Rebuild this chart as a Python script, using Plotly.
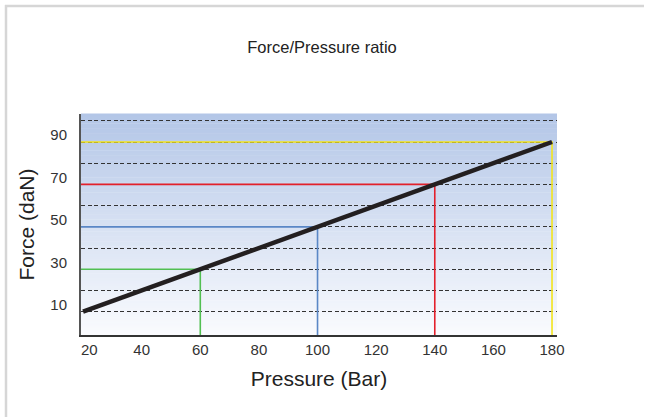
import plotly.graph_objects as go

# ---- data -------------------------------------------------------------
PRESSURE = [20, 60, 100, 140, 180]          # Bar
FORCE = [10, 30, 50, 70, 90]                # daN
MARKED_PRESSURE = [60, 100, 140, 180]
MARKED_FORCE = [30, 50, 70, 90]
MARK_COLORS = ["#52bf52", "#5a87c6", "#e3202b", "#f2e41e"]

X_TICKS = [20, 40, 60, 80, 100, 120, 140, 160, 180]
X_TICK_TEXT = ["\u00a0\u00a0\u00a020", "40", "60", "80", "100", "120", "140", "160", "180"]
Y_TICKS = [10, 30, 50, 70, 90]
Y_MINOR = [20, 40, 60, 80, 100]

X_RANGE = [19.3, 181.7]
Y_RANGE = [-1.0, 103.2]

# ---- layout geometry ---------------------------------------------------
W, H = 645, 418
M_L, M_R, M_T, M_B = 81, 88, 114, 83
PW, PH = W - M_L - M_R, H - M_T - M_B

FONT = "Liberation Sans, Arial, sans-serif"
TOP_COLOR = (179, 198, 231)
BOTTOM_COLOR = (250, 251, 254)

fig = go.Figure()

# reference guides: horizontal from the y axis to the point, then down to the x axis
for p, f, c in zip(MARKED_PRESSURE, MARKED_FORCE, MARK_COLORS):
    fig.add_trace(go.Scatter(
        x=[X_RANGE[0], p, p], y=[f, f, Y_RANGE[0]],
        mode="lines", line=dict(color=c, width=1.6),
        hoverinfo="skip", showlegend=False,
    ))

# force / pressure line
fig.add_trace(go.Scatter(
    x=PRESSURE, y=FORCE, mode="lines",
    line=dict(color="#231f20", width=4.5),
    showlegend=False,
))

# vertical gradient background, built from thin bands below the grid
shapes = []
N = 90
for i in range(N):
    t0 = i / N
    t1 = (i + 1) / N
    tm = (i + 0.5) / N
    rgb = tuple(round(BOTTOM_COLOR[k] + (TOP_COLOR[k] - BOTTOM_COLOR[k]) * tm) for k in range(3))
    shapes.append(dict(
        type="rect", xref="x domain", yref="y domain",
        x0=0, x1=1, y0=t0, y1=t1 + 0.002,
        fillcolor="rgb(%d,%d,%d)" % rgb, line=dict(width=0), layer="below",
    ))

# page frame (left and top edges)
def px_x(px):
    return (px - M_L) / PW

def px_y(py):
    return (H - M_B - py) / PH

shapes.append(dict(type="line", xref="paper", yref="paper",
                   x0=px_x(6), x1=px_x(6), y0=px_y(5), y1=px_y(H - 1),
                   line=dict(color="#d6d6d6", width=2.5)))
shapes.append(dict(type="line", xref="paper", yref="paper",
                   x0=px_x(5), x1=px_x(W - 1), y0=px_y(6), y1=px_y(6),
                   line=dict(color="#d6d6d6", width=2.5)))

fig.update_layout(
    width=W, height=H,
    margin=dict(l=M_L, r=M_R, t=M_T, b=M_B),
    paper_bgcolor="white",
    plot_bgcolor="white",
    font=dict(family=FONT, color="#333333"),
    title=dict(
        text="Force/Pressure ratio",
        x=322 / W, xref="container", xanchor="center",
        y=1 - 47 / H, yref="container", yanchor="middle",
        font=dict(size=16.5, color="#222222"),
    ),
    shapes=shapes,
    xaxis=dict(
        range=X_RANGE, tickvals=X_TICKS, ticktext=X_TICK_TEXT,
        showgrid=False, zeroline=False,
        showline=True, linecolor="#333333", linewidth=2,
        ticks="", tickfont=dict(size=15, color="#333333"),
        title=dict(text="Pressure (Bar)", font=dict(size=21, color="#222222"), standoff=14),
    ),
    yaxis=dict(
        range=Y_RANGE, tickvals=Y_TICKS,
        showgrid=True, gridcolor="#333333", gridwidth=1.3, griddash="4px,2.5px",
        minor=dict(tickvals=Y_MINOR, showgrid=True, gridcolor="#333333",
                   gridwidth=1.3, griddash="4px,2.5px", ticks=""),
        zeroline=False,
        showline=True, linecolor="#555555", linewidth=2,
        ticks="", tickfont=dict(size=15, color="#333333"),
        ticklabelstandoff=9, ticklabelshift=-7,
        title=dict(text="Force (daN)", font=dict(size=21, color="#222222"), standoff=10),
    ),
)

fig.write_html(
    "out.html",
    config={"displayModeBar": False},
    post_script="document.body.style.margin='0';document.body.style.overflow='hidden';",
)
